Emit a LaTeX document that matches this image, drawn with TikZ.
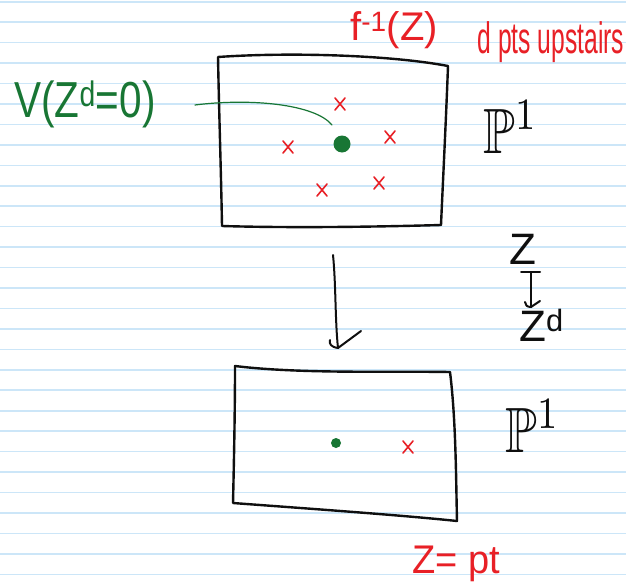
\documentclass[tikz,border=0pt]{standalone}
\usepackage{amssymb}
\usepackage{fontspec}
\setmainfont{Liberation Sans}
\usetikzlibrary{arrows.meta}
\definecolor{ruling}{RGB}{204,230,248}
\definecolor{ink}{RGB}{15,15,15}
\definecolor{redpen}{RGB}{232,32,38}
\definecolor{greenpen}{RGB}{24,118,52}
\tikzset{
  sheet/.style={draw=ink, line width=2.4pt, line join=round, line cap=round},
  stroke/.style={draw=ink, line width=2pt, line cap=round, line join=round},
  txt/.style={inner sep=0pt},
  redx/.pic={\draw[redpen, line width=1.6pt, line cap=round] (-5,-6) -- (5,6) (-5,6) -- (5,-6);},
}
\begin{document}
\begin{tikzpicture}[x=1pt,y=-1pt]
\useasboundingbox (0,0) rectangle (626,581);
\fill[white] (0,0) rectangle (626,581);
% ruled paper
\foreach \k in {0,...,28}
  \draw[ruling, line width=1.6pt] (0,{1.7+20.45*\k}) -- (626,{1.7+20.45*\k});

% upper sheet
\draw[sheet] (218,57) .. controls (290,52) and (390,55) .. (448,66)
  .. controls (446,120) and (443,180) .. (441,225)
  .. controls (370,227) and (290,228) .. (222,226)
  .. controls (221,170) and (219,110) .. (218,57) -- cycle;

% lower sheet
\draw[sheet] (235,366) .. controls (300,374) and (390,371) .. (450,372)
  .. controls (456,420) and (456,480) .. (457,521)
  .. controls (400,515) and (300,508) .. (233,503)
  .. controls (234,460) and (235,410) .. (235,366) -- cycle;

% points upstairs
\node (dotup) [circle, fill=greenpen, minimum size=17pt, inner sep=0pt] at (342,144) {};
\pic at (340,104) {redx};
\pic at (288,147) {redx};
\pic at (390,137) {redx};
\pic at (322,190) {redx};
\pic at (379,183) {redx};

% points downstairs
\node (dotdown) [circle, fill=greenpen, minimum size=10pt, inner sep=0pt] at (336,443) {};
\pic at (408,447) {redx};

% labels
\node[txt, redpen, font=\fontsize{40}{40}\selectfont] (fibre) at (394,30) {f\textsuperscript{-1}(Z)};
\node[txt, redpen, font=\fontsize{44}{44}\selectfont] (count) at (551,42) {\scalebox{0.56}[1]{d pts upstairs}};
\node[txt, greenpen, font=\fontsize{44}{44}\selectfont] (locus) at (85,104) {\scalebox{0.92}[1.15]{V(Z\textsuperscript{d}=0)}};
\node[txt, ink, anchor=base west] (projup) at (483,153) {\scalebox{5.2}[6.4]{$\mathbb{P}^1$}};
\node[txt, ink, anchor=base west] (projdown) at (505,452) {\scalebox{5.2}[6.4]{$\mathbb{P}^1$}};
\node[txt, redpen, font=\fontsize{40}{40}\selectfont, anchor=base west] (point) at (412,573) {\scalebox{0.95}[1]{Z= pt}};

% leader from the locus to the point
\coordinate (leadstart) at (195,105);
\draw[greenpen, line width=1.2pt, line cap=round] (leadstart) .. controls (250,98) and (315,104) .. (332,125);

% projection arrow
\coordinate (arrtop) at (333,255);
\coordinate (arrtip) at (338,348);
\draw[stroke] (arrtop) .. controls (336,285) and (335,320) .. (arrtip);
\draw[stroke] (arrtip) -- ++(23,-17);
\draw[stroke] (arrtip) .. controls (331,347) and (329,344) .. (330,340);

% the map z -> z^d
\node[txt, ink, font=\fontsize{44}{44}\selectfont] (zup) at (523,249) {Z};
\node[txt, ink, font=\fontsize{44}{44}\selectfont, anchor=base west] (zdown) at (519,341) {Z\textsuperscript{d}};
\coordinate (mapfrom) at (531,272);
\coordinate (mapto) at (531,307);
\draw[stroke] (521,272) -- (540,272);
\draw[stroke] (mapfrom) -- (mapto);
\draw[stroke] (mapto) .. controls (527,307) and (525,305) .. (525,302);
\draw[stroke] (mapto) -- ++(9,-6);
\end{tikzpicture}
\end{document}
